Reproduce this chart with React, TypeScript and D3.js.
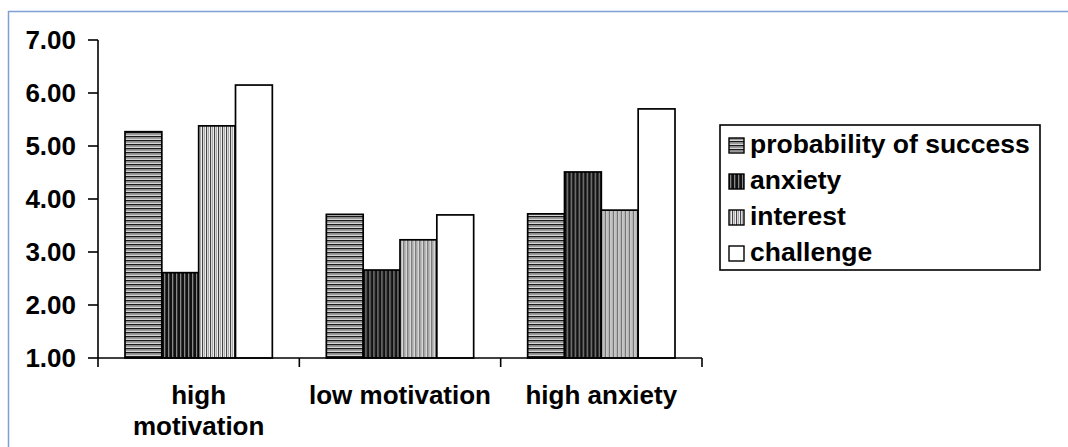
import React from "react";
import * as d3 from "d3";

const categories = ["high motivation", "low motivation", "high anxiety"];
const categoryLines = [["high", "motivation"], ["low motivation"], ["high anxiety"]];
const seriesNames = ["probability of success", "anxiety", "interest", "challenge"];
const probabilityOfSuccess = [5.27, 3.71, 3.72];
const anxiety = [2.61, 2.66, 4.51];
const interest = [5.38, 3.23, 3.79];
const challenge = [6.15, 3.7, 5.7];
const yTicks = [1, 2, 3, 4, 5, 6, 7];

const seriesValues = [probabilityOfSuccess, anxiety, interest, challenge];
const fills = ["url(#pHoriz)", "url(#pDark)", "url(#pVert)", "#fff"];

export default function App() {
  const W = 1068, H = 447;
  const x0 = 98, x1 = 702, yTop = 40, yBot = 358;
  const y = d3.scaleLinear().domain([1, 7]).range([yBot, yTop]);
  const xg = d3.scaleBand().domain(categories).range([x0, x1]).paddingInner(0).paddingOuter(0);
  const inner = d3.scaleBand().domain(seriesNames).range([27, xg.bandwidth() - 27]).padding(0);
  const font = "'Liberation Sans', Arial, sans-serif";

  return (
    <svg width={W} height={H} style={{ position: "absolute", left: 0, top: 0 }} fontFamily={font}>
      <defs>
        <pattern id="pHoriz" width="6" height="4" patternUnits="userSpaceOnUse">
          <rect width="6" height="4" fill="#fff" />
          <rect y="0" width="6" height="1.5" fill="#1a1a1a" />
          <rect y="2" width="6" height="1.4" fill="#9a9a9a" />
        </pattern>
        <pattern id="pDark" width="4" height="6" patternUnits="userSpaceOnUse">
          <rect width="4" height="6" fill="#111" />
          <rect x="2" width="1.3" height="6" fill="#888" />
        </pattern>
        <pattern id="pVert" width="4" height="6" patternUnits="userSpaceOnUse">
          <rect width="4" height="6" fill="#fff" />
          <rect x="0" width="1.2" height="6" fill="#444" />
          <rect x="2" width="1.2" height="6" fill="#aaa" />
        </pattern>
      </defs>
      <rect x={0} y={0} width={W} height={H} fill="#fff" />
      {/* frame */}
      <line x1={8} y1={11.5} x2={W} y2={11.5} stroke="#7f9fd6" strokeWidth={1.5} />
      <line x1={8.5} y1={11} x2={8.5} y2={H} stroke="#7f9fd6" strokeWidth={1.5} />

      {/* bars */}
      {categories.map((c, ci) => (
        <g key={c} transform={`translate(${xg(c)},0)`}>
          {seriesNames.map((s, si) => {
            const v = seriesValues[si][ci];
            return (
              <rect key={s} x={inner(s)} y={y(v)} width={inner.bandwidth()} height={yBot - y(v)}
                fill={fills[si]} stroke="#000" strokeWidth={1.7} />
            );
          })}
        </g>
      ))}

      {/* y axis */}
      <line x1={x0} y1={yTop} x2={x0} y2={yBot} stroke="#000" strokeWidth={1.6} />
      {yTicks.map((t) => (
        <g key={t}>
          <line x1={x0 - 10} x2={x0} y1={y(t)} y2={y(t)} stroke="#000" strokeWidth={1.6} />
          <text x={76} y={y(t)} dy="0.36em" textAnchor="end" fontSize={26} fontWeight="bold" fill="#000">
            {d3.format(".2f")(t)}
          </text>
        </g>
      ))}
      {/* x axis */}
      <line x1={x0} y1={yBot} x2={x1} y2={yBot} stroke="#000" strokeWidth={1.6} />
      {[x0, ...categories.map((c) => (xg(c) as number) + xg.bandwidth())].map((tx, i) => (
        <line key={i} x1={tx} x2={tx} y1={yBot} y2={yBot + 9} stroke="#000" strokeWidth={1.6} />
      ))}
      {categories.map((c, ci) => (
        <text key={c} x={(xg(c) as number) + xg.bandwidth() / 2} y={404} textAnchor="middle" fontSize={26} fontWeight="bold" fill="#000">
          {categoryLines[ci].map((ln, li) => (
            <tspan key={li} x={(xg(c) as number) + xg.bandwidth() / 2} dy={li === 0 ? 0 : 31}>{ln}</tspan>
          ))}
        </text>
      ))}

      {/* legend */}
      <rect x={720} y={125} width={320} height={145} fill="#fff" stroke="#000" strokeWidth={1.6} />
      {seriesNames.map((s, si) => (
        <g key={s} transform={`translate(0,${153 + si * 36})`}>
          <rect x={729} y={-15} width={15} height={15} fill={fills[si]} stroke="#000" strokeWidth={1.4} />
          <text x={750} y={0} fontSize={26.5} fontWeight="bold" fill="#000">{s}</text>
        </g>
      ))}
    </svg>
  );
}
